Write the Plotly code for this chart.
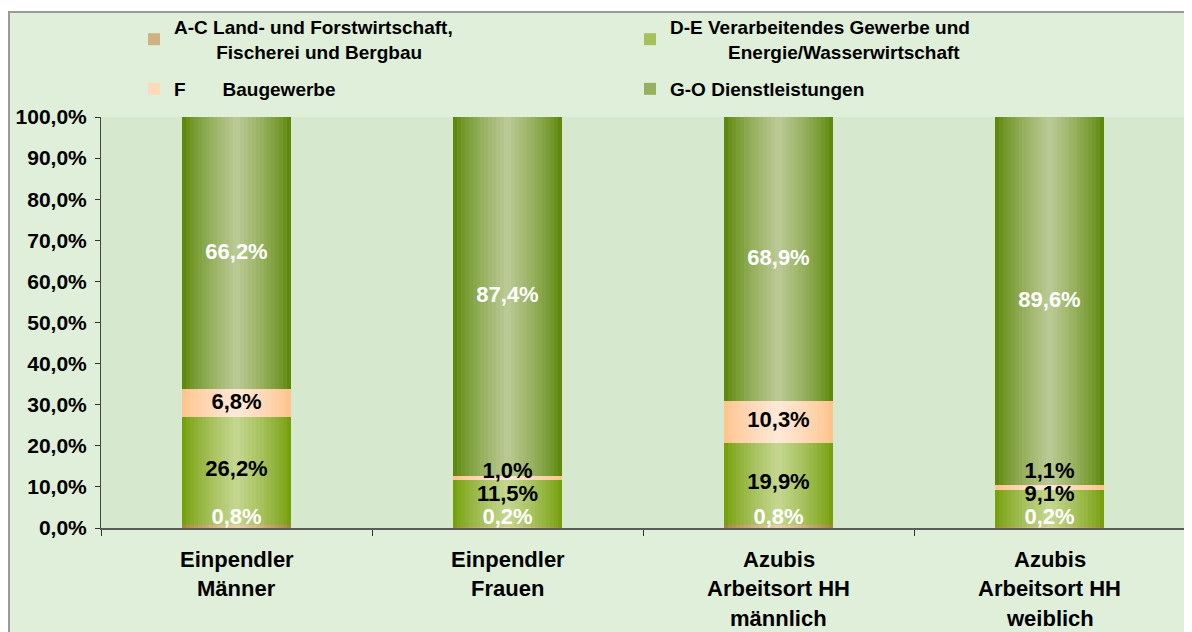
import plotly.graph_objects as go

categories = ["Einpendler<br>Männer", "Einpendler<br>Frauen",
              "Azubis<br>Arbeitsort HH<br>männlich", "Azubis<br>Arbeitsort HH<br>weiblich"]
series_names = [
    "A-C Land- und Forstwirtschaft,<br>" + "&nbsp;" * 8 + "Fischerei und Bergbau",
    "D-E Verarbeitendes Gewerbe und<br>" + "&nbsp;" * 11 + "Energie/Wasserwirtschaft",
    "F" + "&nbsp;" * 7 + "Baugewerbe",
    "G-O Dienstleistungen",
]
ac = [0.8, 0.2, 0.8, 0.2]
de = [26.2, 11.5, 19.9, 9.1]
f_bau = [6.8, 1.0, 10.3, 1.1]
go_dl = [66.2, 87.4, 68.9, 89.6]
values = [ac, de, f_bau, go_dl]

# edge colour -> centre colour (cylinder-like gradient)
edge_cols = ["#A98247", "#76A00C", "#FFC48E", "#5E890C"]
mid_cols = ["#E6D0A6", "#C4D68E", "#FFE8D6", "#BAC993"]
label_cols = ["white", "black", "black", "white"]
legend_of = ["legend", "legend", "legend2", "legend2"]

FONT = "Liberation Sans, Arial, sans-serif"
BAR_W = 0.4
N_LAYERS = 14


def hex2rgb(h):
    h = h.lstrip("#")
    return [int(h[i:i + 2], 16) for i in (0, 2, 4)]


def mix(c1, c2, t):
    a, b = hex2rgb(c1), hex2rgb(c2)
    return "rgb(%d,%d,%d)" % tuple(round(a[i] + (b[i] - a[i]) * t) for i in range(3))


fig = go.Figure()

bases = []
run = [0.0] * len(categories)
for vals in values:
    bases.append(run[:])
    run = [r + v for r, v in zip(run, vals)]

for s, vals in enumerate(values):
    for k in range(N_LAYERS):
        t = k / (N_LAYERS - 1)
        fig.add_trace(go.Bar(
            x=categories, y=vals, base=bases[s],
            width=BAR_W * (1 - k / N_LAYERS),
            marker=dict(color=mix(edge_cols[s], mid_cols[s], t ** 0.8), line=dict(width=0)),
            name=series_names[s],
            showlegend=(k == N_LAYERS // 2),
            legend=legend_of[s],
            legendrank=s,
            hoverinfo="skip",
        ))

# data labels, nudged apart where segments are thin
lab_y = [[0] * len(categories) for _ in values]
for c in range(len(categories)):
    prev = 2.2 - 5.6
    for s, vals in enumerate(values):
        mid = bases[s][c] + vals[c] / 2
        y = max(mid, prev + 5.6)
        lab_y[s][c] = y
        prev = y

for s, vals in enumerate(values):
    fig.add_trace(go.Scatter(
        x=categories, y=lab_y[s], mode="text",
        text=[("%.1f%%" % v).replace(".", ",") for v in vals],
        textposition="middle center",
        textfont=dict(family=FONT, size=22, color=label_cols[s], weight="bold"),
        showlegend=False, hoverinfo="skip", cliponaxis=False,
    ))

# category labels below the axis
for c, cat in enumerate(categories):
    for i, line in enumerate(cat.split("<br>")):
        fig.add_annotation(
            x=cat, y=0, xref="x", yref="y", text=line, showarrow=False,
            yshift=-31 - 29.5 * i, yanchor="middle",
            font=dict(family=FONT, size=22, color="black", weight="bold"),
        )

# page body has an 8px margin, so the figure is drawn 8px in from the window
W, H = 1184, 624
L, R, T, B = 93, 7, 109, 104
pw, ph = W - L - R, H - T - B


def px(x):
    return (x - L) / pw


def py(y):
    return (H - B - y) / ph


fig.add_shape(type="rect", xref="paper", yref="paper",
              x0=px(1), x1=px(1240), y0=py(4), y1=py(700),
              fillcolor="#DFEFD9", line=dict(color="#9A9A9A", width=2), layer="below")
fig.add_shape(type="rect", xref="paper", yref="paper", x0=0, x1=1, y0=0, y1=1,
              fillcolor="#D6E8CE", line=dict(width=0), layer="below")

leg_common = dict(
    orientation="h", xref="container", yref="container",
    x=126 / W, xanchor="left", yanchor="top",
    entrywidth=451, bgcolor="rgba(0,0,0,0)",
    font=dict(family=FONT, size=19, color="black", weight="bold"),
    traceorder="normal", itemclick=False,
)

fig.update_layout(
    width=W, height=H,
    margin=dict(l=L, r=R, t=T, b=B, autoexpand=False),
    barmode="overlay",
    bargap=0,
    paper_bgcolor="white",
    plot_bgcolor="rgba(0,0,0,0)",
    separators=",.",
    font=dict(family=FONT, size=18, color="black"),
    legend=dict(leg_common, y=1.0),
    legend2=dict(leg_common, y=1 - 62 / H),
    xaxis=dict(
        showticklabels=False, ticks="outside", tickson="boundaries", ticklen=6,
        tickcolor="#333333", showline=True, linecolor="#5A5A5A", linewidth=2,
        showgrid=False, zeroline=False,
    ),
    yaxis=dict(
        range=[0, 100], dtick=10, tickformat=".1f", ticksuffix="%",
        ticks="outside", ticklen=5, tickcolor="#333333", showline=True,
        linecolor="#444444", linewidth=1, showgrid=False, zeroline=False,
        ticklabelstandoff=4,
        tickfont=dict(family=FONT, size=21, color="black", weight="bold"),
    ),
)

fig.write_html("out.html")
